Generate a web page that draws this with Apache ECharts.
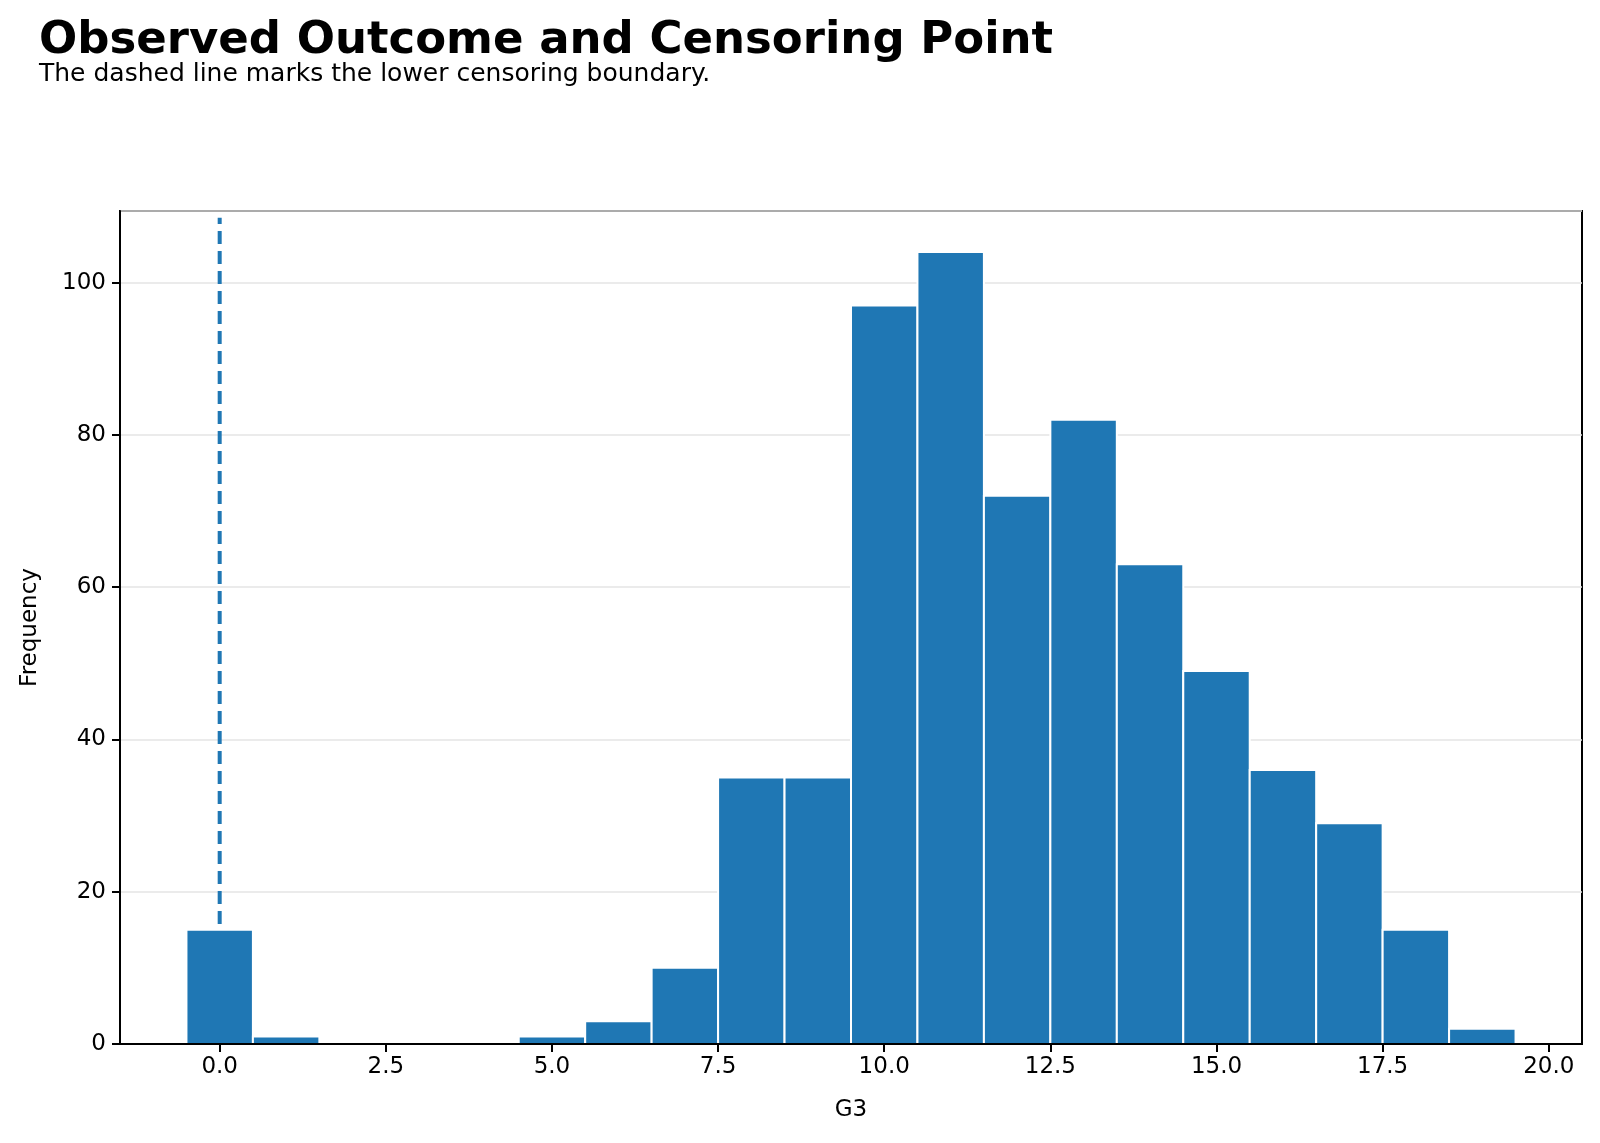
<!DOCTYPE html>
<html>
<head>
<meta charset="utf-8">
<script src="https://cdn.jsdelivr.net/npm/echarts@6/dist/echarts.min.js"></script>
<style>html,body{margin:0;background:#fff}#chart{width:1600px;height:1143px}</style>
</head>
<body>
<div id="chart"></div>
<script>
// histogram data: G3 bins (centred on integer grades, width 1)
const binCenters = [0, 1, 2, 3, 4, 5, 6, 7, 8, 9, 10, 11, 12, 13, 14, 15, 16, 17, 18, 19];
const counts = [15, 1, 0, 0, 0, 1, 3, 10, 35, 35, 97, 104, 72, 82, 63, 49, 36, 29, 15, 2];
const xTicks = [0, 2.5, 5, 7.5, 10, 12.5, 15, 17.5, 20];
const censorPoint = 0;

const barData = binCenters.map((c, i) => [c - 0.5, c + 0.5, counts[i]]).filter(d => d[2] > 0);

const axisFont = { fontFamily: "DejaVu Sans", fontSize: 23, color: "#000" };

let options = {
  animation: false,
  title: {
    text: "Observed Outcome and Censoring Point",
    subtext: "The dashed line marks the lower censoring boundary.",
    left: 34, top: 14, itemGap: -2,
    textStyle: { fontFamily: "DejaVu Sans", fontWeight: "bold", fontSize: 45, color: "#000" },
    subtextStyle: { fontFamily: "DejaVu Sans", fontSize: 25, color: "#000" }
  },
  grid: { left: 120, right: 18, top: 211, bottom: 99, show: true, borderColor: "#000", borderWidth: 2 },
  xAxis: {
    type: "value", min: -1.5, max: 20.5, z: 10,
    name: "G3", nameLocation: "middle", nameGap: 55,
    nameTextStyle: axisFont,
    axisLine: { show: true, onZero: false, lineStyle: { color: "#000", width: 2 } },
    axisTick: { show: true, customValues: xTicks, length: 8, lineStyle: { color: "#000", width: 2 } },
    axisLabel: Object.assign({ customValues: xTicks, formatter: v => v.toFixed(1), margin: 12 }, axisFont),
    splitLine: { show: false }
  },
  yAxis: {
    type: "value", min: 0, max: 109.4, interval: 20,
    name: "Frequency", nameLocation: "middle", nameGap: 78,
    nameTextStyle: axisFont,
    axisLine: { show: true, onZero: false, lineStyle: { color: "#000", width: 2 } },
    axisTick: { show: true, length: 8, lineStyle: { color: "#000", width: 2 } },
    axisLabel: Object.assign({ margin: 14, showMaxLabel: false }, axisFont),
    splitLine: { show: true, lineStyle: { color: "#e5e5e5", width: 1.5 } }
  },
  series: [
    {
      type: "line", z: 1, symbol: "none",
      data: [[censorPoint, 0], [censorPoint, 108.5]],
      lineStyle: { color: "#1f77b4", width: 4, type: [13, 7] }
    },
    {
      type: "custom", z: 2,
      data: barData,
      renderItem: (params, api) => {
        const p0 = api.coord([api.value(0), api.value(2)]);
        const p1 = api.coord([api.value(1), 0]);
        return {
          type: "rect",
          shape: { x: p0[0], y: p0[1], width: p1[0] - p0[0], height: p1[1] - p0[1] },
          style: { fill: "#1f77b4", stroke: "#fff", lineWidth: 2 }
        };
      }
    }
  ]
};

let chart = echarts.init(document.getElementById("chart"));
chart.setOption(options);
</script>
</body>
</html>
